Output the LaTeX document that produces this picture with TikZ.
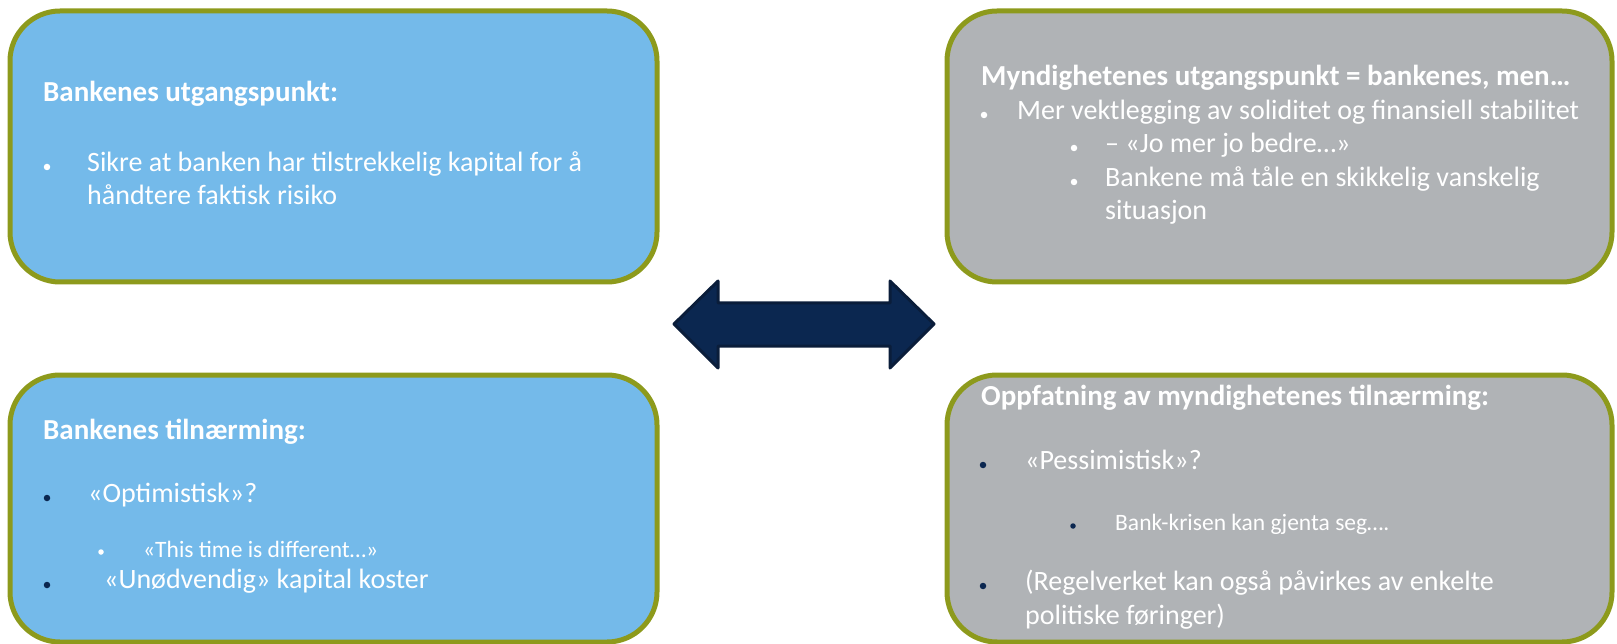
\documentclass[tikz,border=0pt]{standalone}
\usepackage{fontspec}
\setmainfont{Carlito}
\definecolor{olive}{HTML}{8D9A1C}
\definecolor{boxblue}{HTML}{74BAEA}
\definecolor{boxgrey}{HTML}{B0B3B6}
\definecolor{navy}{HTML}{0B2750}
\definecolor{navyedge}{HTML}{0A1D3A}
\tikzset{
  panel/.style={draw=olive, line width=5pt, rounded corners=50pt},
  ttl/.style={anchor=mid west, inner sep=0pt, text=white, font=\fontsize{29}{34}\selectfont\bfseries},
  body/.style={anchor=mid west, inner sep=0pt, text=white, font=\fontsize{28}{33}\selectfont},
  small/.style={anchor=mid west, inner sep=0pt, text=white, font=\fontsize{23.5}{28}\selectfont},
  wdot/.style={circle, fill=white, inner sep=0pt, minimum size=6.5pt},
  ndot/.style={circle, fill=navy, inner sep=0pt, minimum size=6.5pt},
}
\begin{document}
\begin{tikzpicture}[x=1pt, y=-1pt]
\useasboundingbox (0,0) rectangle (1617,644);
% panels
\path[panel, fill=boxblue] (10,11) rectangle (657,282);
\path[panel, fill=boxgrey] (947,11) rectangle (1612,282);
\path[panel, fill=boxblue] (10,375) rectangle (657,642);
\path[panel, fill=boxgrey] (947,375) rectangle (1612,642);
% arrow
\draw[fill=navy, draw=navyedge, line width=3pt, line join=round]
  (674,324) -- (718,281) -- (718,303) -- (890,303) -- (890,281) -- (934,324)
  -- (890,368) -- (890,346) -- (718,346) -- (718,368) -- cycle;
% top left
\node[ttl] (tlt) at (43,99) {Bankenes utgangspunkt:};
\node[wdot] (tlb1) at (47,167) {};
\node[body] (tl1) at (87,169) {Sikre at banken har tilstrekkelig kapital for å};
\node[body] (tl2) at (87,202) {håndtere faktisk risiko};
% top right
\node[ttl] (trt) at (981,83) {Myndighetenes utgangspunkt = bankenes, men…};
\node[wdot] (trb1) at (984,115) {};
\node[body] (tr1) at (1017,117) {Mer vektlegging av soliditet og finansiell stabilitet};
\node[wdot] (trb2) at (1074,148) {};
\node[body] (tr2) at (1105,150) {– «Jo mer jo bedre…»};
\node[wdot] (trb3) at (1074,182) {};
\node[body] (tr3) at (1105,184) {Bankene må tåle en skikkelig vanskelig};
\node[body] (tr4) at (1105,217) {situasjon};
% bottom left
\node[ttl] (blt) at (43,437) {Bankenes tilnærming:};
\node[ndot] (blb1) at (47,498) {};
\node[body] (bl1) at (88,500.5) {«Optimistisk»?};
\node[wdot, minimum size=5.5pt] (blb2) at (101,552) {};
\node[small] (bl2) at (143,555.5) {«This time is different…»};
\node[ndot] (blb3) at (47,585) {};
\node[body] (bl3) at (104,586.5) {«Unødvendig» kapital koster};
% bottom right
\node[ttl] (brt) at (981,403) {Oppfatning av myndighetenes tilnærming:};
\node[ndot] (brb1) at (983,465) {};
\node[body] (br1) at (1025,467) {«Pessimistisk»?};
\node[ndot, minimum size=5.5pt] (brb2) at (1073,526) {};
\node[small] (br2) at (1115,528.5) {Bank-krisen kan gjenta seg….};
\node[ndot] (brb3) at (983,586) {};
\node[body] (br3) at (1025,588) {(Regelverket kan også påvirkes av enkelte};
\node[body] (br4) at (1025,622) {politiske føringer)};
\end{tikzpicture}
\end{document}
